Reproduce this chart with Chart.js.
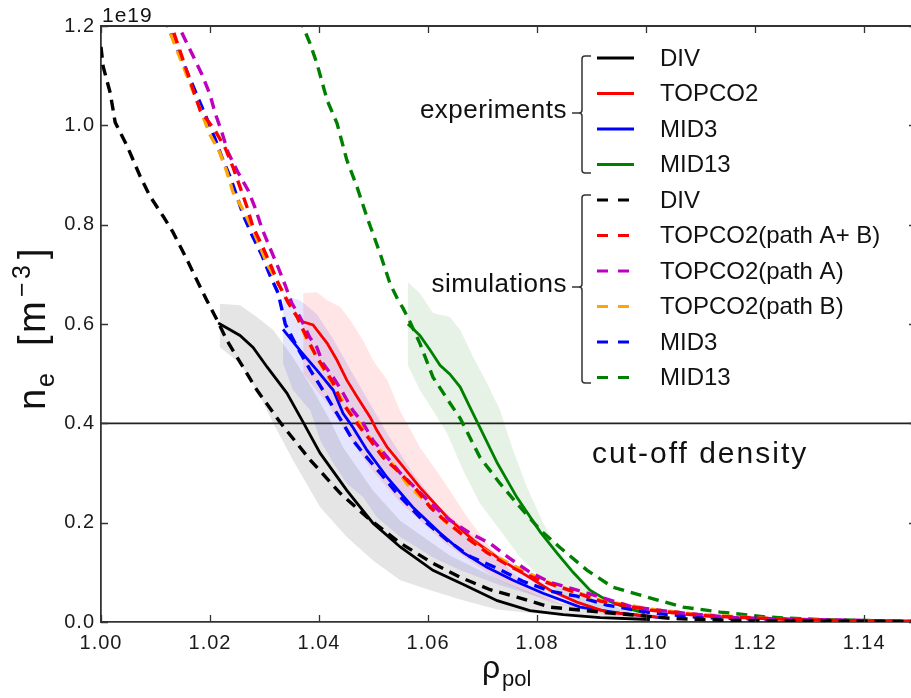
<!DOCTYPE html>
<html>
<head>
<meta charset="utf-8">
<script src="https://cdn.jsdelivr.net/npm/chart.js@4.4.1/dist/chart.umd.min.js"></script>
<style>
  html, body { margin: 0; padding: 0; background: #fff; }
  #wrap { width: 911px; height: 698px; }
</style>
</head>
<body>
<div id="wrap"><canvas id="chart"></canvas></div>
<script>
// rho_pol, n_e (units of 1e19 m^-3)
const expDIV = [[1.0215,0.602],[1.0255,0.577],[1.0279,0.553],[1.0305,0.513],[1.0341,0.461],[1.0371,0.402],[1.0402,0.340],[1.0451,0.265],[1.0499,0.199],[1.0549,0.151],[1.0609,0.104],[1.0664,0.076],[1.0727,0.043],[1.0787,0.023],[1.0848,0.015],[1.0916,0.009],[1.1007,0.005]];
const expTOPCO2 = [[1.0369,0.605],[1.0389,0.598],[1.0415,0.561],[1.0433,0.527],[1.0451,0.487],[1.0470,0.453],[1.0494,0.412],[1.0506,0.386],[1.0525,0.352],[1.0549,0.320],[1.0585,0.271],[1.0635,0.211],[1.0683,0.165],[1.0727,0.130],[1.0774,0.098],[1.0824,0.064],[1.0873,0.040],[1.0928,0.020],[1.1022,0.010]];
const expMID3 = [[1.0334,0.589],[1.0365,0.547],[1.0396,0.507],[1.0426,0.467],[1.0444,0.420],[1.0462,0.392],[1.0488,0.346],[1.0525,0.291],[1.0572,0.231],[1.0622,0.179],[1.0664,0.140],[1.0708,0.110],[1.0756,0.084],[1.0811,0.058],[1.0879,0.030],[1.0952,0.018],[1.1026,0.009]];
const expMID13 = [[1.0563,0.600],[1.0585,0.577],[1.0604,0.547],[1.0622,0.517],[1.0640,0.499],[1.0659,0.473],[1.0677,0.432],[1.0695,0.392],[1.0727,0.320],[1.0763,0.251],[1.0806,0.181],[1.0837,0.138],[1.0866,0.100],[1.0897,0.064],[1.0928,0.044],[1.0965,0.028],[1.0998,0.018]];

const simDIV = [[1.0000,1.158],[1.0004,1.118],[1.0017,1.065],[1.0026,1.006],[1.0048,0.958],[1.0072,0.897],[1.0090,0.857],[1.0114,0.817],[1.0132,0.785],[1.0158,0.729],[1.0176,0.688],[1.0194,0.648],[1.0213,0.608],[1.0231,0.567],[1.0286,0.467],[1.0330,0.400],[1.0384,0.326],[1.0439,0.259],[1.0488,0.211],[1.0549,0.159],[1.0609,0.118],[1.0659,0.090],[1.0714,0.065],[1.0763,0.050],[1.0824,0.030],[1.0916,0.020],[1.1050,0.007],[1.1160,0.003],[1.1490,0.001]];
const simTOPCO2AB = [[1.0106,1.252],[1.0134,1.185],[1.0182,1.030],[1.0209,0.990],[1.0228,0.954],[1.0242,0.916],[1.0255,0.876],[1.0268,0.835],[1.0279,0.795],[1.0295,0.759],[1.0310,0.722],[1.0325,0.682],[1.0343,0.644],[1.0360,0.614],[1.0371,0.588],[1.0383,0.561],[1.0396,0.533],[1.0415,0.501],[1.0426,0.481],[1.0439,0.447],[1.0457,0.420],[1.0475,0.392],[1.0494,0.366],[1.0517,0.332],[1.0543,0.306],[1.0580,0.265],[1.0604,0.231],[1.0628,0.207],[1.0664,0.175],[1.0708,0.140],[1.0750,0.112],[1.0800,0.086],[1.0848,0.068],[1.0916,0.042],[1.1007,0.024],[1.1099,0.013],[1.1222,0.007],[1.1343,0.003],[1.1490,0.001]];
const simTOPCO2A = [[1.0119,1.252],[1.0149,1.185],[1.0185,1.103],[1.0200,1.062],[1.0209,1.026],[1.0222,0.985],[1.0233,0.946],[1.0251,0.906],[1.0270,0.869],[1.0283,0.833],[1.0295,0.793],[1.0310,0.753],[1.0325,0.714],[1.0338,0.678],[1.0350,0.642],[1.0365,0.614],[1.0383,0.573],[1.0396,0.553],[1.0407,0.521],[1.0426,0.493],[1.0444,0.461],[1.0462,0.426],[1.0481,0.400],[1.0499,0.366],[1.0525,0.332],[1.0549,0.300],[1.0604,0.240],[1.0640,0.205],[1.0677,0.179],[1.0714,0.158],[1.0750,0.128],[1.0787,0.100],[1.0824,0.080],[1.0892,0.058],[1.0976,0.030],[1.1068,0.018],[1.1160,0.009],[1.1283,0.005],[1.1406,0.003],[1.1490,0.001]];
const simTOPCO2B = [[1.0104,1.252],[1.0130,1.178],[1.0187,1.018],[1.0200,0.981],[1.0218,0.945],[1.0231,0.906],[1.0242,0.866],[1.0261,0.829],[1.0277,0.793],[1.0292,0.755],[1.0306,0.718],[1.0325,0.682],[1.0343,0.644],[1.0360,0.614],[1.0378,0.567],[1.0402,0.521],[1.0420,0.487],[1.0439,0.453],[1.0457,0.420],[1.0481,0.392],[1.0499,0.360],[1.0525,0.332],[1.0561,0.279],[1.0598,0.239],[1.0635,0.199],[1.0677,0.165],[1.0714,0.138],[1.0763,0.110],[1.0811,0.084],[1.0861,0.064],[1.0916,0.044],[1.1007,0.026],[1.1099,0.015],[1.1222,0.007],[1.1343,0.003],[1.1490,0.001]];
const simMID3 = [[1.0102,1.252],[1.0123,1.198],[1.0182,1.045],[1.0194,1.014],[1.0209,0.974],[1.0222,0.935],[1.0237,0.896],[1.0250,0.855],[1.0261,0.819],[1.0277,0.779],[1.0295,0.739],[1.0310,0.698],[1.0325,0.662],[1.0338,0.600],[1.0360,0.553],[1.0384,0.507],[1.0407,0.467],[1.0426,0.432],[1.0444,0.400],[1.0462,0.366],[1.0481,0.340],[1.0512,0.300],[1.0543,0.259],[1.0585,0.211],[1.0635,0.165],[1.0677,0.132],[1.0727,0.108],[1.0774,0.082],[1.0824,0.062],[1.0873,0.052],[1.0928,0.034],[1.1013,0.018],[1.1099,0.009],[1.1222,0.005],[1.1343,0.003],[1.1490,0.001]];
const simMID13 = [[1.0351,1.252],[1.0371,1.198],[1.0383,1.166],[1.0396,1.125],[1.0415,1.050],[1.0433,1.004],[1.0451,0.930],[1.0470,0.875],[1.0488,0.815],[1.0512,0.742],[1.0530,0.682],[1.0545,0.648],[1.0554,0.632],[1.0567,0.604],[1.0585,0.561],[1.0609,0.493],[1.0640,0.441],[1.0659,0.410],[1.0695,0.332],[1.0732,0.279],[1.0769,0.231],[1.0806,0.185],[1.0842,0.150],[1.0892,0.104],[1.0939,0.070],[1.1002,0.050],[1.1068,0.030],[1.1136,0.020],[1.1222,0.010],[1.1314,0.005],[1.1406,0.003],[1.1490,0.001]];

// shaded uncertainty bands of the experiments: upper and lower edges
const bandDIVUp = [[1.0218,0.641],[1.0255,0.638],[1.0286,0.614],[1.0316,0.588],[1.0352,0.533],[1.0389,0.467],[1.0420,0.406],[1.0444,0.352],[1.0499,0.265],[1.0549,0.204],[1.0640,0.134],[1.0732,0.084],[1.0824,0.044],[1.0916,0.020],[1.1007,0.010]];
const bandDIVLo = [[1.0218,0.553],[1.0255,0.521],[1.0286,0.467],[1.0316,0.400],[1.0352,0.326],[1.0402,0.231],[1.0451,0.171],[1.0499,0.124],[1.0549,0.084],[1.0604,0.064],[1.0664,0.044],[1.0727,0.025],[1.0787,0.018],[1.0916,0.007],[1.1007,0.003]];
const bandTOPCO2Up = [[1.0371,0.662],[1.0396,0.664],[1.0415,0.648],[1.0439,0.634],[1.0457,0.608],[1.0481,0.567],[1.0499,0.527],[1.0525,0.487],[1.0549,0.425],[1.0585,0.352],[1.0628,0.285],[1.0672,0.211],[1.0708,0.158],[1.0750,0.104],[1.0793,0.064],[1.0842,0.038],[1.0916,0.020],[1.1022,0.010]];
const bandTOPCO2Lo = [[1.0371,0.500],[1.0415,0.440],[1.0451,0.380],[1.0494,0.310],[1.0549,0.240],[1.0635,0.155],[1.0727,0.085],[1.0824,0.040],[1.0928,0.014],[1.1022,0.004]];
const bandMID3Up = [[1.0334,0.658],[1.0365,0.648],[1.0396,0.620],[1.0426,0.570],[1.0462,0.500],[1.0525,0.380],[1.0572,0.300],[1.0622,0.230],[1.0708,0.150],[1.0811,0.080],[1.0952,0.030],[1.1026,0.015]];
const bandMID3Lo = [[1.0334,0.521],[1.0352,0.467],[1.0384,0.426],[1.0402,0.366],[1.0426,0.320],[1.0451,0.279],[1.0481,0.251],[1.0506,0.211],[1.0549,0.171],[1.0609,0.130],[1.0659,0.104],[1.0732,0.074],[1.0824,0.044],[1.0916,0.024],[1.1026,0.009]];
const bandMID13Up = [[1.0563,0.684],[1.0585,0.662],[1.0609,0.622],[1.0640,0.614],[1.0659,0.588],[1.0683,0.533],[1.0708,0.481],[1.0732,0.427],[1.0756,0.346],[1.0782,0.270],[1.0811,0.200],[1.0842,0.140],[1.0879,0.090],[1.0916,0.050],[1.0952,0.025],[1.0998,0.012]];
const bandMID13Lo = [[1.0563,0.517],[1.0585,0.467],[1.0609,0.426],[1.0635,0.380],[1.0664,0.306],[1.0695,0.239],[1.0732,0.185],[1.0769,0.130],[1.0806,0.090],[1.0842,0.058],[1.0892,0.030],[1.0939,0.020],[1.0998,0.011]];

const cutoffDensity = 0.4;
const xRange = [1.0, 1.1486];
const yRange = [0, 1.2];
const xStep = 0.02;
const yStep = 0.2;

const expLabels = ['DIV', 'TOPCO2', 'MID3', 'MID13'];
const expColors = ['#000000', '#ff0000', '#0000ff', '#008000'];
const expSeries = [expDIV, expTOPCO2, expMID3, expMID13];
const bandFills = ['rgba(0,0,0,0.1)', 'rgba(255,0,0,0.1)', 'rgba(0,0,255,0.1)', 'rgba(0,128,0,0.1)'];
const bandEdges = [[bandDIVUp, bandDIVLo], [bandTOPCO2Up, bandTOPCO2Lo], [bandMID3Up, bandMID3Lo], [bandMID13Up, bandMID13Lo]];

const simLabels = ['DIV', 'TOPCO2(path A+ B)', 'TOPCO2(path A)', 'TOPCO2(path B)', 'MID3', 'MID13'];
const simColors = ['#000000', '#ff0000', '#bf00bf', '#ffa500', '#0000ff', '#008000'];
const simSeries = [simDIV, simTOPCO2AB, simTOPCO2A, simTOPCO2B, simMID3, simMID13];

const FONT = 'Liberation Sans, Arial, sans-serif';
const DASH = [11, 7];

function toPoints(arr) {
    return arr.map(p => ({ x: p[0], y: p[1] }));
}

const datasets = [];
bandEdges.forEach((edges, i) => {
    // closed outline: upper edge left->right, lower edge right->left
    const outline = edges[0].concat(edges[1].slice().reverse());
    datasets.push({
        label: 'band ' + expLabels[i],
        data: toPoints(outline),
        fill: 'shape',
        backgroundColor: bandFills[i],
        borderWidth: 0,
        order: 3
    });
});
datasets.push({
    label: 'cut-off',
    data: [{ x: xRange[0], y: cutoffDensity }, { x: xRange[1], y: cutoffDensity }],
    borderColor: '#222',
    borderWidth: 1.6,
    order: 2
});
expSeries.forEach((s, i) => {
    datasets.push({
        label: expLabels[i],
        data: toPoints(s),
        borderColor: expColors[i],
        borderWidth: 2.8,
        order: 1
    });
});
simSeries.forEach((s, i) => {
    datasets.push({
        label: simLabels[i],
        data: toPoints(s),
        borderColor: simColors[i],
        borderWidth: 3.4,
        borderDash: DASH,
        order: 0
    });
});

function drawBracket(ctx, x, top, bottom, mid) {
    ctx.beginPath();
    ctx.moveTo(x + 9, top);
    ctx.lineTo(x + 3, top);
    ctx.quadraticCurveTo(x, top, x, top + 3);
    ctx.lineTo(x, mid - 3);
    ctx.quadraticCurveTo(x, mid, x - 3, mid);
    ctx.lineTo(x - 10, mid);
    ctx.moveTo(x - 3, mid);
    ctx.quadraticCurveTo(x, mid, x, mid + 3);
    ctx.lineTo(x, bottom - 3);
    ctx.quadraticCurveTo(x, bottom, x + 3, bottom);
    ctx.lineTo(x + 9, bottom);
    ctx.stroke();
}

const decorations = {
    id: 'decorations',
    beforeDraw(chart) {
        // tick labels in the figure are slightly spaced out
        chart.ctx.letterSpacing = '1px';
    },
    afterDraw(chart) {
        const ctx = chart.ctx;
        const area = chart.chartArea;
        const xs = chart.scales.x;
        const ys = chart.scales.y;
        ctx.save();
        ctx.letterSpacing = '0px';

        // top frame and inward ticks
        ctx.strokeStyle = '#333';
        ctx.lineWidth = 1.8;
        ctx.beginPath();
        ctx.moveTo(area.left, area.top);
        ctx.lineTo(area.right, area.top);
        ctx.stroke();
        ctx.lineWidth = 1.3;
        ctx.beginPath();
        xs.ticks.forEach(t => {
            const px = Math.round(xs.getPixelForValue(t.value)) + 0.5;
            ctx.moveTo(px, area.bottom); ctx.lineTo(px, area.bottom - 7);
            ctx.moveTo(px, area.top); ctx.lineTo(px, area.top + 7);
        });
        ys.ticks.forEach(t => {
            const py = Math.round(ys.getPixelForValue(t.value)) + 0.5;
            ctx.moveTo(area.left, py); ctx.lineTo(area.left + 7, py);
            ctx.moveTo(area.right, py); ctx.lineTo(area.right - 2, py);
        });
        ctx.stroke();

        ctx.fillStyle = '#111';
        ctx.textBaseline = 'alphabetic';

        // axis offset text
        ctx.font = '21px ' + FONT;
        ctx.textAlign = 'left';
        ctx.letterSpacing = '1px';
        ctx.fillText('1e19', area.left + 1, 22);
        ctx.letterSpacing = '0px';

        // x axis label
        ctx.font = '32px ' + FONT;
        ctx.fillText('\u03c1', 482, 678);
        ctx.font = '22px ' + FONT;
        ctx.fillText('pol', 502, 686);

        // y axis label, rotated
        ctx.save();
        ctx.translate(45, 410);
        ctx.rotate(-Math.PI / 2);
        const bigY = '38px ' + FONT;
        const smallY = '25px ' + FONT;
        ctx.font = bigY; ctx.fillText('n', 0, 0);
        ctx.font = smallY; ctx.fillText('e', 23, 9);
        ctx.font = bigY; ctx.fillText('[', 64, 0);
        ctx.fillText('m', 77, 0);
        ctx.font = smallY; ctx.fillText('\u2212', 113, -15);
        ctx.fillText('3', 131, -15);
        ctx.font = bigY; ctx.fillText(']', 151, 0);
        ctx.restore();

        // cut-off density
        ctx.font = '30px ' + FONT;
        ctx.letterSpacing = '2px';
        ctx.fillText('cut-off density', 592, 463);
        ctx.letterSpacing = '0px';

        // legend
        const rowTop = 58;
        const rowStep = 35.5;
        const sampleX0 = 597;
        const sampleX1 = 634;
        const textX = 660;
        ctx.font = '24px ' + FONT;
        ctx.textBaseline = 'middle';
        const rows = [];
        expLabels.forEach((l, i) => rows.push({ label: l, color: expColors[i], dash: [] }));
        simLabels.forEach((l, i) => rows.push({ label: l, color: simColors[i], dash: [11, 10] }));
        rows.forEach((r, i) => {
            const y = rowTop + i * rowStep;
            ctx.strokeStyle = r.color;
            ctx.lineWidth = r.dash.length ? 3.2 : 3;
            ctx.setLineDash(r.dash);
            ctx.beginPath();
            ctx.moveTo(sampleX0, y);
            ctx.lineTo(r.dash.length ? sampleX1 - 4 : sampleX1, y);
            ctx.stroke();
            ctx.fillStyle = '#111';
            ctx.fillText(r.label, textX, y + 1);
        });
        ctx.setLineDash([]);

        // brackets and group names
        ctx.strokeStyle = '#333';
        ctx.lineWidth = 1.5;
        drawBracket(ctx, 582, 56, 173, 113);
        drawBracket(ctx, 582, 195, 383, 287);
        ctx.font = '26px ' + FONT;
        ctx.letterSpacing = '0.5px';
        ctx.textAlign = 'right';
        ctx.fillText('experiments', 567, 111);
        ctx.fillText('simulations', 567, 285);
        ctx.letterSpacing = '0px';

        ctx.restore();
    }
};

Chart.defaults.font.family = FONT;

new Chart(document.getElementById('chart'), {
    type: 'line',
    data: { datasets: datasets },
    options: {
        responsive: true,
        maintainAspectRatio: false,
        animation: false,
        events: [],
        layout: { padding: { top: 26, right: 0, left: 0, bottom: 0 } },
        elements: {
            point: { radius: 0, hoverRadius: 0 },
            line: { tension: 0, fill: false }
        },
        datasets: { line: { clip: 0 } },
        scales: {
            x: {
                type: 'linear',
                min: xRange[0],
                max: xRange[1],
                grid: { display: false, drawTicks: false },
                border: { display: true, color: '#333', width: 1.8 },
                ticks: {
                    stepSize: xStep,
                    includeBounds: false,
                    padding: 9,
                    color: '#1a1a1a',
                    font: { size: 20 },
                    maxRotation: 0,
                    callback: v => v.toFixed(2)
                },
                afterFit: scale => { scale.height = 76; }
            },
            y: {
                type: 'linear',
                min: yRange[0],
                max: yRange[1],
                grid: { display: false, drawTicks: false },
                border: { display: true, color: '#333', width: 1.8 },
                ticks: {
                    stepSize: yStep,
                    padding: 6,
                    color: '#1a1a1a',
                    font: { size: 20 },
                    callback: v => v.toFixed(1)
                },
                afterFit: scale => { scale.width = 101; }
            }
        },
        plugins: {
            legend: { display: false },
            tooltip: { enabled: false },
            filler: { drawTime: 'beforeDatasetsDraw' }
        }
    },
    plugins: [decorations]
});
</script>
</body>
</html>
